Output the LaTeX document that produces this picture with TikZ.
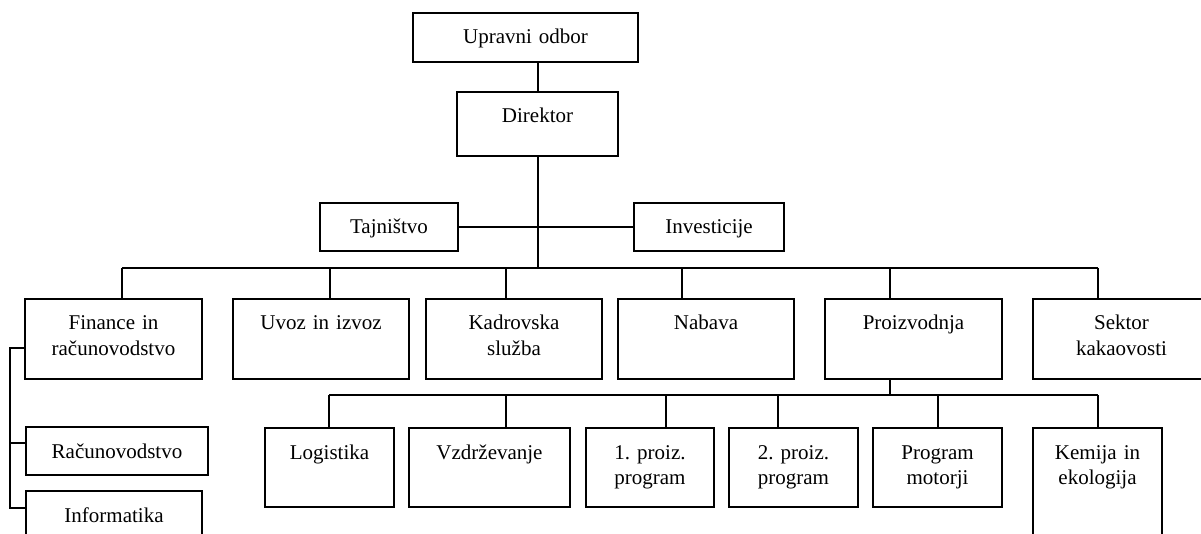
\documentclass[tikz,border=0pt]{standalone}
\usepackage{fontspec}
\setmainfont{Liberation Serif}
\usetikzlibrary{calc}
\frenchspacing

% box frame: top-left corner (x1,y1), bottom-right (x2,y2); label baseline 31 below the top edge
\newcommand\orgbox[6]{%
  \node[frame, anchor=north west,
        minimum width={(#4-#2)*1pt}, minimum height={(#5-#3)*1pt}] (#1) at (#2,#3) {};
  \node[boxlabel] (#1-t) at ({(#2+#4)/2},{#3+31}) {#6};
}

\tikzset{
  frame/.style={draw, line width=1.9pt, inner sep=0pt, outer sep=0pt},
  boxlabel/.style={anchor=base, align=center, text width=190pt, inner sep=0pt,
                   font=\fontsize{21}{25}\selectfont\frenchspacing},
  conn/.style={line width=1.9pt}
}

\begin{document}
\begin{tikzpicture}[x=1pt, y=-1pt]
\useasboundingbox (0,0) rectangle (1201,534);

% top levels
\orgbox{uo}{413}{13}{638}{62}{Upravni odbor}
\orgbox{dir}{457}{92}{618}{156}{Direktor}
\orgbox{taj}{320}{203}{458}{251}{Tajništvo}
\orgbox{inv}{634}{203}{784}{251}{Investicije}

% departments
\orgbox{fin}{25}{299}{202}{379}{Finance in\\računovodstvo}
\orgbox{uvoz}{233}{299}{409}{379}{Uvoz in izvoz}
\orgbox{kad}{426}{299}{602}{379}{Kadrovska\\služba}
\orgbox{nab}{618}{299}{794}{379}{Nabava}
\orgbox{proi}{825}{299}{1002}{379}{Proizvodnja}
\orgbox{sek}{1033}{299}{1210}{379}{Sektor\\kakaovosti}

% finance sub-units
\orgbox{rac}{26}{427}{208}{475}{Računovodstvo}
\orgbox{inf}{26}{491}{202}{545}{Informatika}

% production sub-units
\orgbox{log}{265}{428}{394}{507}{Logistika}
\orgbox{vzd}{409}{428}{570}{507}{Vzdrževanje}
\orgbox{pa}{586}{428}{714}{507}{1. proiz.\\program}
\orgbox{pb}{729}{428}{858}{507}{2. proiz.\\program}
\orgbox{pm}{873}{428}{1002}{507}{Program\\motorji}
\orgbox{kem}{1033}{428}{1162}{545}{Kemija in\\ekologija}

% junction points
\coordinate (trunk) at (538,268);
\coordinate (j-fin) at (122,268);
\coordinate (j-uvoz) at (330,268);
\coordinate (j-kad) at (506,268);
\coordinate (j-nab) at (682,268);
\coordinate (j-proi) at (890,268);
\coordinate (j-sek) at (1098,268);

\coordinate (k-proi) at (890,395);
\coordinate (k-log) at (329,395);
\coordinate (k-vzd) at (506,395);
\coordinate (k-pa) at (666,395);
\coordinate (k-pb) at (778,395);
\coordinate (k-pm) at (938,395);
\coordinate (k-kem) at (1098,395);

\coordinate (s-fin) at (10,348);
\coordinate (s-rac) at (10,443);
\coordinate (s-inf) at (10,508);

% management line
\draw[conn] (uo.south -| trunk) -- (dir.north -| trunk);
\draw[conn] (dir.south -| trunk) -- (trunk);
\draw[conn] (taj.east) -- (inv.west);

% department bus
\draw[conn] (j-fin) -- (j-sek);
\foreach \d in {fin,uvoz,kad,nab,proi,sek}
  \draw[conn] (j-\d) -- (j-\d |- \d.north);

% production bus
\draw[conn] (k-proi |- proi.south) -- (k-proi);
\draw[conn] (k-log) -- (k-kem);
\foreach \d in {log,vzd,pa,pb,pm,kem}
  \draw[conn] (k-\d) -- (k-\d |- \d.north);

% finance branch
\draw[conn] (fin.west |- s-fin) -- (s-fin) -- (s-inf) -- (inf.west |- s-inf);
\draw[conn] (s-rac) -- (rac.west |- s-rac);
\end{tikzpicture}
\end{document}
